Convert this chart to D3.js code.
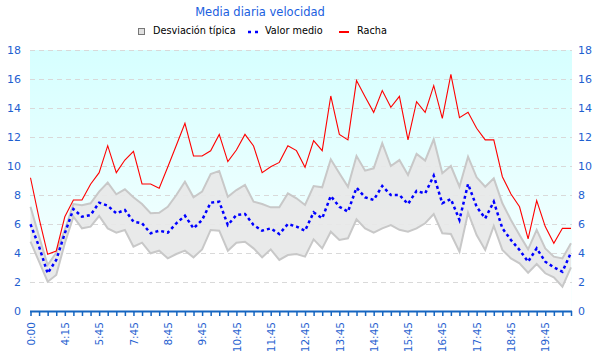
<!DOCTYPE html>
<html><head><meta charset="utf-8">
<script src="https://cdn.jsdelivr.net/npm/d3@7"></script>
<style>body{margin:0;background:#fff;} text{font-family:"DejaVu Sans",sans-serif;}</style>
</head><body><svg id="c" width="600" height="360"></svg>
<script>
const categories = ["0:00","1:15","2:30","3:45","4:15","4:30","5:00","5:15","5:45","6:15","6:45","7:15","7:45","8:00","8:15","8:30",
"8:45","9:00","9:15","9:30","9:45","10:00","10:15","10:30","10:45","11:00","11:15","11:30","11:45","12:00","12:15","12:30",
"12:45","13:00","13:15","13:30","13:45","14:00","14:15","14:30","14:45","15:00","15:15","15:30","15:45","16:00","16:15","16:30",
"16:45","17:00","17:15","17:30","17:45","18:00","18:15","18:30","18:45","19:00","19:15","19:30","19:45","20:00","20:15","20:30"];
const racha = [9.19,6.39,3.91,4.14,6.5,7.66,7.66,8.74,9.54,11.4,9.54,10.41,11.01,8.76,8.76,8.46,9.93,11.43,12.94,10.69,10.69,11.05,12.18,10.3,11.1,12.18,11.38,9.54,9.95,10.25,11.4,11.06,9.91,11.75,11.06,14.83,12.18,11.8,15.89,14.78,13.7,15.2,14.05,14.8,11.8,14.44,13.7,15.54,13.29,16.32,13.33,13.7,12.6,11.8,11.8,9.26,8.07,7.19,4.97,7.61,5.82,4.67,5.7,5.7];
const valorMedio = [5.98,4.44,2.6,3.52,5.36,7.03,6.5,6.62,7.47,7.26,6.74,6.97,6.16,6.05,5.36,5.54,5.4,6.05,6.57,5.7,6.28,7.47,7.54,5.93,6.62,6.69,5.93,5.54,5.7,5.31,6.0,5.82,5.54,6.8,6.39,7.93,7.19,6.85,8.5,7.84,7.66,8.62,8.0,8.0,7.38,8.28,8.11,9.33,7.43,7.72,6.28,8.76,7.19,6.39,7.54,5.7,4.9,4.21,3.4,4.32,3.4,3.01,2.71,4.02];
const desvSup = [7.19,5.13,3.17,4.02,5.59,7.38,7.3,7.43,8.23,8.85,8.05,8.39,7.84,7.38,6.74,6.77,7.19,8.0,8.92,7.84,8.23,9.45,9.66,7.88,8.34,8.69,7.54,7.38,7.15,7.15,8.11,7.77,7.31,8.62,8.53,10.46,9.5,8.57,10.69,9.68,9.84,11.57,10.0,10.41,9.38,10.83,10.37,11.84,9.5,10.0,8.57,10.64,9.22,8.57,9.15,7.43,6.28,5.24,4.25,5.59,4.32,3.75,3.63,4.67];
const desvInf = [4.78,3.4,2.02,2.48,4.67,6.5,5.7,5.82,6.55,5.7,5.4,5.59,4.44,4.71,3.98,4.16,3.63,3.93,4.16,3.7,4.25,5.59,5.54,4.16,4.71,4.78,4.32,3.7,4.25,3.52,3.86,3.93,3.75,4.94,4.32,5.47,4.9,5.01,6.32,5.7,5.4,5.7,5.93,5.6,5.47,5.7,6.05,6.69,5.36,5.31,4.09,6.78,5.24,4.21,5.86,4.21,3.63,3.29,2.64,3.24,2.6,2.32,1.68,3.01];
const yTicks = [0,2,4,6,8,10,12,14,16,18];

const svg = d3.select("#c");
const L = 30, R = 572, T = 50, B = 311;
const axisColor = "#1565c0", labelColor = "#1f5fd0";
const x = d3.scalePoint().domain(categories).range([L + 0.5, R - 1]);
const y = d3.scaleLinear().domain([0, 18]).range([B, T]);

const defs = svg.append("defs");
const g = defs.append("linearGradient").attr("id","bg").attr("x1",0).attr("y1",0).attr("x2",0).attr("y2",1);
g.append("stop").attr("offset","0%").attr("stop-color","#d6ffff");
g.append("stop").attr("offset","100%").attr("stop-color","#fbffff");
svg.append("rect").attr("x",L).attr("y",T).attr("width",R-L).attr("height",B-T).attr("fill","url(#bg)");

const idx = d3.range(categories.length);
svg.append("path").datum(idx).attr("fill","#fff")
  .attr("d", d3.area().x(i=>x(categories[i])).y0(y(0)).y1(i=>y(desvInf[i])));

svg.append("g").selectAll("line").data(yTicks.filter(v=>v>0)).join("line")
  .attr("x1",L).attr("x2",R).attr("y1",d=>Math.round(y(d))+0.5).attr("y2",d=>Math.round(y(d))+0.5)
  .attr("stroke","#d9d9d9").attr("stroke-dasharray","5,4");

svg.append("path").datum(idx).attr("fill","#e8e8e8").attr("fill-opacity",0.9)
  .attr("d", d3.area().x(i=>x(categories[i])).y0(i=>y(desvInf[i])).y1(i=>y(desvSup[i])));
const lineOf = arr => d3.line().x(i=>x(categories[i])).y(i=>y(arr[i]));
[desvSup, desvInf].forEach(arr=>{
  svg.append("path").datum(idx).attr("fill","none").attr("stroke","#c8c8c8").attr("stroke-width",2)
    .attr("d", lineOf(arr));
});
svg.append("path").datum(idx).attr("fill","none").attr("stroke","#ff0000").attr("stroke-width",1.1)
  .attr("d", lineOf(racha));
svg.append("path").datum(idx).attr("fill","none").attr("stroke","#0000ff").attr("stroke-width",2.5)
  .attr("stroke-dasharray","3,3").attr("d", lineOf(valorMedio));

const xa = svg.append("g").attr("transform",`translate(0,${B})`)
  .call(d3.axisBottom(x).tickSize(5).tickFormat((d,i)=> i%4===0 ? d : ""));
xa.select(".domain").attr("stroke",axisColor).attr("stroke-width",2).attr("d",`M${L},0.5H${R}`);
xa.selectAll(".tick line").attr("stroke",axisColor).attr("stroke-width",1.5);
xa.selectAll(".tick text").attr("fill",labelColor).attr("font-size",10.5)
  .attr("transform","rotate(-90)").attr("text-anchor","end").attr("x",-11).attr("y",0).attr("dy","0.35em");

const yl = svg.append("g");
yl.selectAll("text.l").data(yTicks).join("text").attr("class","l")
  .attr("x",21).attr("y",d=>y(d)).attr("dy","0.35em").attr("text-anchor","end")
  .attr("fill",labelColor).attr("font-size",11).text(d=>d);
yl.selectAll("text.r").data(yTicks).join("text").attr("class","r")
  .attr("x",578).attr("y",d=>y(d)).attr("dy","0.35em").attr("text-anchor","start")
  .attr("fill",labelColor).attr("font-size",11).text(d=>d);

svg.append("text").attr("x",260).attr("y",16).attr("text-anchor","middle")
  .attr("fill","#2060e0").attr("font-size",11.5).text("Media diaria velocidad");

const lg = svg.append("g").attr("font-size",9.7);
lg.append("rect").attr("x",138.5).attr("y",28.5).attr("width",6).attr("height",6).attr("fill","#e0e0e0").attr("stroke","#777");
lg.append("text").attr("x",153).attr("y",31).attr("dy","0.35em").text("Desviación típica");
lg.append("line").attr("x1",248).attr("x2",258).attr("y1",32).attr("y2",32).attr("stroke","#0000ff").attr("stroke-width",2.5).attr("stroke-dasharray","3,4");
lg.append("text").attr("x",265).attr("y",31).attr("dy","0.35em").text("Valor medio");
lg.append("line").attr("x1",339).attr("x2",349).attr("y1",32).attr("y2",32).attr("stroke","#ff0000").attr("stroke-width",2);
lg.append("text").attr("x",357).attr("y",31).attr("dy","0.35em").text("Racha");
</script></body></html>
